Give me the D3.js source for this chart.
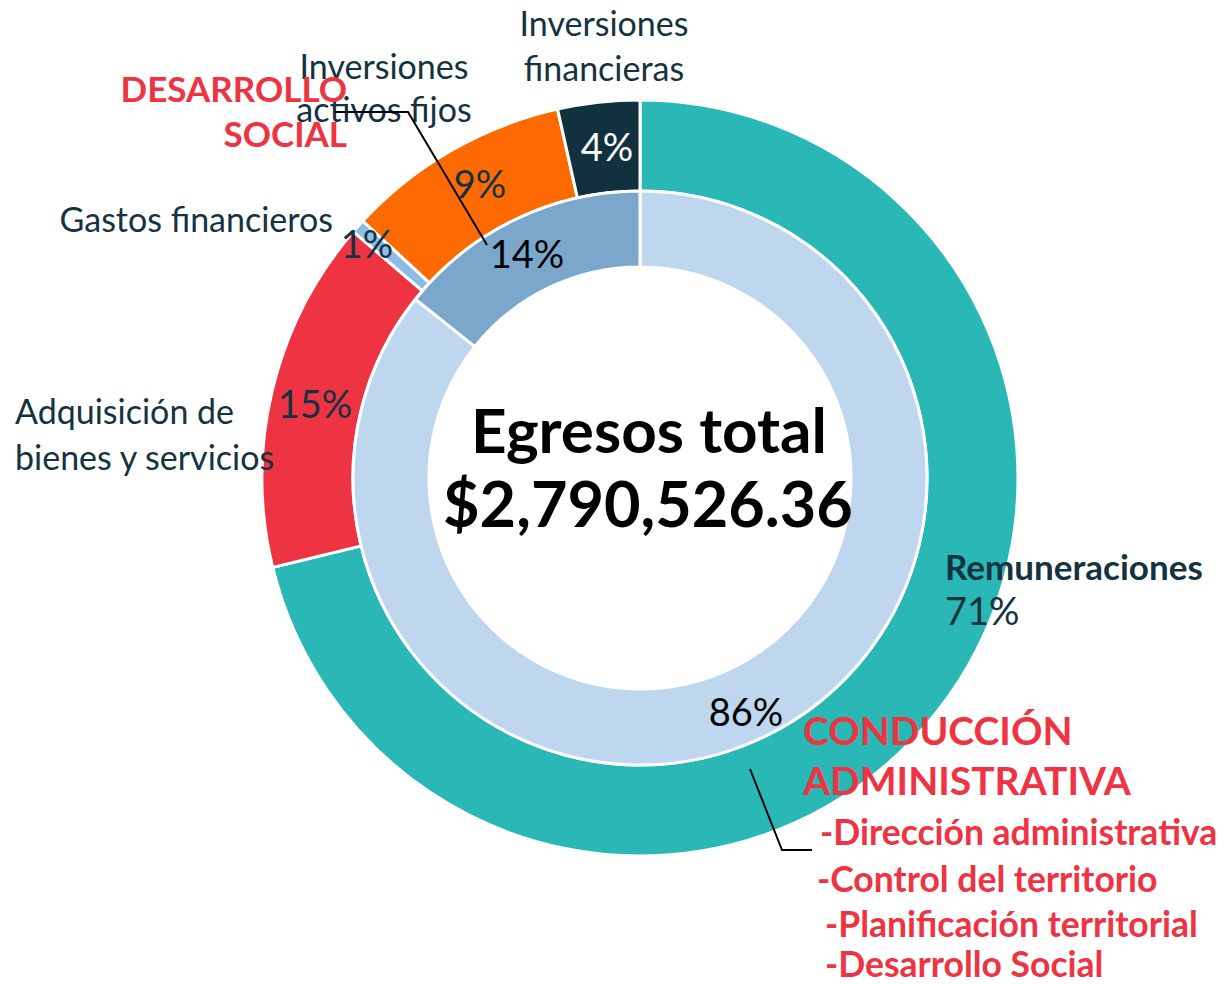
<!DOCTYPE html>
<html>
<head>
<meta charset="utf-8">
<script src="https://cdn.jsdelivr.net/npm/d3@7"></script>
<style>
  body { margin: 0; background: #fff; }
  svg { display: block; font-family: Lato, "Noto Sans", sans-serif; }
</style>
</head>
<body>
<div id="chart"></div>
<script>
// Outer ring: spending by type
const outerCats = ["Remuneraciones", "Adquisición de bienes y servicios", "Gastos financieros", "Inversiones activos fijos", "Inversiones financieras"];
const outerValues = [71.2, 15.1, 0.6, 9.6, 3.5];
const outerPct = ["71%", "15%", "1%", "9%", "4%"];
const outerColors = ["#2ab8b6", "#ee3342", "#8dbde6", "#ff6a00", "#12313e"];

// Inner ring: spending by program
const innerCats = ["Conducción administrativa", "Desarrollo social"];
const innerValues = [85.7, 14.3];
const innerPct = ["86%", "14%"];
const innerColors = ["#bfd7ee", "#7ba7cc"];

const totalLabel = "$2,790,526.36";

const width = 1228, height = 984;
const cx = 640, cy = 478;
const dark = "#14323f", red = "#ee3342";

const svg = d3.select("#chart").append("svg")
    .attr("width", width)
    .attr("height", height);

const g = svg.append("g").attr("transform", `translate(${cx},${cy})`);

const pie = d3.pie().sort(null).value(d => d.v);

const outerArc = d3.arc().innerRadius(287).outerRadius(378);
const innerArc = d3.arc().innerRadius(211).outerRadius(287);

const outerData = pie(outerCats.map((c, i) => ({ c, v: outerValues[i] })));
const innerData = pie(innerCats.map((c, i) => ({ c, v: innerValues[i] })));

g.selectAll("path.outer")
    .data(outerData)
    .join("path")
    .attr("class", "outer")
    .attr("d", outerArc)
    .attr("fill", (d, i) => outerColors[i])
    .attr("stroke", "#fff")
    .attr("stroke-width", 3);

g.selectAll("path.inner")
    .data(innerData)
    .join("path")
    .attr("class", "inner")
    .attr("d", innerArc)
    .attr("fill", (d, i) => innerColors[i])
    .attr("stroke", "#fff")
    .attr("stroke-width", 3);

// percentage labels (placed by hand like the original)
const outerPctPos = [[945, 625, "start", dark], [315, 418, "middle", dark], [367, 258, "middle", dark], [480, 198, "middle", dark], [607, 161, "middle", "#fff"]];
outerPct.forEach((t, i) => {
    const p = outerPctPos[i];
    svg.append("text")
        .attr("x", p[0]).attr("y", p[1])
        .attr("text-anchor", p[2])
        .attr("fill", p[3])
        .attr("font-size", 38)
        .text(t);
});

const innerPctPos = [[746, 726], [527, 268]];
innerPct.forEach((t, i) => {
    svg.append("text")
        .attr("x", innerPctPos[i][0]).attr("y", innerPctPos[i][1])
        .attr("text-anchor", "middle")
        .attr("fill", "#000")
        .attr("font-size", 38)
        .text(t);
});

// category labels
const catLabel = (lines, x, y, anchor, opts = {}) => {
    const t = svg.append("text")
        .attr("x", x).attr("y", y)
        .attr("text-anchor", anchor)
        .attr("fill", opts.fill || dark)
        .attr("font-size", opts.size || 34)
        .attr("font-weight", opts.weight || "normal");
    lines.forEach((l, i) => {
        t.append("tspan").attr("x", x).attr("dy", i ? (opts.lh || 45) : 0).text(l);
    });
};

catLabel(["Remuneraciones"], 945, 580, "start", { weight: "bold", size: 35 });
catLabel(["Adquisición de", "bienes y servicios"], 15, 424, "start", { lh: 46 });
catLabel(["Gastos financieros"], 333, 232, "end");
catLabel(["Inversiones", "activos fijos"], 384, 79, "middle", { lh: 43 });
catLabel(["Inversiones", "financieras"], 604, 36, "middle", { lh: 45 });

catLabel(["DESARROLLO", "SOCIAL"], 347, 102, "end", { fill: red, weight: "bold", size: 35 });
catLabel(["CONDUCCIÓN", "ADMINISTRATIVA"], 803, 745, "start", { fill: red, weight: "bold", size: 39, lh: 50 });

const subPrograms = ["-Dirección administrativa", "-Control del territorio", "-Planificación territorial", "-Desarrollo Social"];
const subX = [820, 817, 825, 825];
const subY = [845, 892, 937, 977];
subPrograms.forEach((s, i) => {
    svg.append("text")
        .attr("x", subX[i]).attr("y", subY[i])
        .attr("fill", red)
        .attr("font-weight", "bold")
        .attr("font-size", 35.5)
        .text(s);
});

// leader lines
const line = d3.line();
svg.append("path")
    .attr("d", line([[335, 112], [408, 112], [487, 245]]))
    .attr("fill", "none").attr("stroke", "#000").attr("stroke-width", 2);
svg.append("path")
    .attr("d", line([[750, 769], [782, 850], [812, 850]]))
    .attr("fill", "none").attr("stroke", "#000").attr("stroke-width", 2);

// centre title
svg.append("text")
    .attr("x", cx + 9).attr("y", 453)
    .attr("text-anchor", "middle")
    .attr("font-weight", "bold")
    .attr("font-size", 62)
    .attr("fill", "#000")
    .text("Egresos total");
svg.append("text")
    .attr("x", cx + 8).attr("y", 527)
    .attr("text-anchor", "middle")
    .attr("font-weight", "bold")
    .attr("font-size", 63)
    .attr("fill", "#000")
    .text(totalLabel);
</script>
</body>
</html>
